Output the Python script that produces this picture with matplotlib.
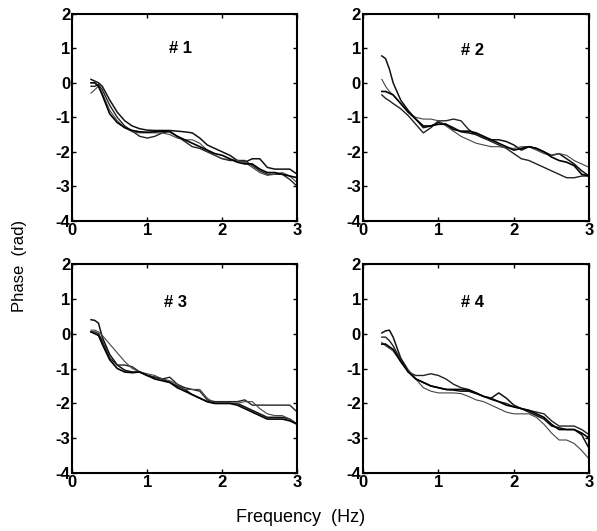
import matplotlib
matplotlib.use("Agg")
import matplotlib.pyplot as plt

plt.rcParams['font.family'] = ['Liberation Sans', 'DejaVu Sans']
plt.rcParams['axes.unicode_minus'] = False

# frequency samples (Hz)
freq = [0.25, 0.3, 0.35, 0.4, 0.5, 0.6, 0.7, 0.8, 0.9, 1.0,
        1.1, 1.2, 1.3, 1.4, 1.5, 1.6, 1.7, 1.8, 1.9, 2.0,
        2.1, 2.2, 2.3, 2.4, 2.5, 2.6, 2.7, 2.8, 2.9, 3.0]

# subject #1, four trials (phase in rad)
s1_a = [0.1, 0.05, 0.0, -0.1, -0.5, -0.85, -1.1, -1.25, -1.33, -1.37,
        -1.38, -1.38, -1.38, -1.4, -1.42, -1.45, -1.6, -1.8, -1.9, -2.0,
        -2.1, -2.25, -2.3, -2.2, -2.2, -2.45, -2.5, -2.5, -2.5, -2.65]
s1_b = [-0.1, -0.1, -0.05, -0.2, -0.65, -1.0, -1.25, -1.4, -1.55, -1.6,
        -1.55, -1.45, -1.4, -1.55, -1.7, -1.85, -1.9, -2.0, -2.1, -2.2,
        -2.25, -2.25, -2.25, -2.4, -2.55, -2.65, -2.65, -2.65, -2.8, -3.0]
s1_c = [-0.3, -0.2, -0.1, -0.3, -0.8, -1.1, -1.3, -1.42, -1.45, -1.45,
        -1.45, -1.45, -1.5, -1.6, -1.65, -1.65, -1.75, -1.95, -2.1, -2.2,
        -2.22, -2.25, -2.3, -2.45, -2.6, -2.68, -2.65, -2.6, -2.7, -2.9]
s1_d = [0.0, 0.0, -0.1, -0.35, -0.9, -1.15, -1.3, -1.38, -1.42, -1.43,
        -1.42, -1.4, -1.42, -1.55, -1.65, -1.75, -1.85, -1.95, -2.05, -2.1,
        -2.2, -2.3, -2.35, -2.35, -2.5, -2.6, -2.6, -2.65, -2.7, -2.75]

# subject #2
s2_a = [0.78, 0.7, 0.4, 0.0, -0.5, -0.8, -1.05, -1.3, -1.25, -1.15,
        -1.2, -1.3, -1.42, -1.45, -1.5, -1.6, -1.65, -1.65, -1.7, -1.8,
        -1.95, -1.85, -1.9, -2.0, -2.1, -2.05, -2.2, -2.35, -2.55, -2.7]
s2_b = [-0.35, -0.45, -0.52, -0.6, -0.75, -0.95, -1.2, -1.45, -1.3, -1.1,
        -1.1, -1.05, -1.1, -1.35, -1.5, -1.6, -1.7, -1.8, -1.9, -2.05,
        -2.2, -2.25, -2.35, -2.45, -2.55, -2.65, -2.75, -2.75, -2.7, -2.7]
s2_c = [0.1, -0.1, -0.25, -0.35, -0.6, -0.85, -1.0, -1.05, -1.05, -1.1,
        -1.25, -1.4, -1.55, -1.65, -1.75, -1.8, -1.85, -1.85, -1.88, -1.9,
        -1.85, -1.85, -1.95, -2.05, -2.1, -2.05, -2.1, -2.25, -2.35, -2.45]
s2_d = [-0.25, -0.25, -0.3, -0.35, -0.6, -0.85, -1.05, -1.25, -1.25, -1.2,
        -1.2, -1.35, -1.4, -1.4, -1.45, -1.55, -1.65, -1.75, -1.85, -1.95,
        -1.9, -1.85, -1.9, -2.0, -2.15, -2.25, -2.3, -2.4, -2.65, -2.7]

# subject #3
s3_a = [0.4, 0.38, 0.3, -0.1, -0.6, -0.9, -1.05, -1.1, -1.1, -1.2,
        -1.25, -1.3, -1.4, -1.5, -1.6, -1.75, -1.85, -1.95, -2.0, -2.0,
        -2.0, -2.0, -2.1, -2.2, -2.3, -2.4, -2.4, -2.4, -2.45, -2.6]
s3_b = [0.05, 0.05, 0.0, -0.2, -0.7, -0.9, -0.9, -0.95, -1.1, -1.2,
        -1.25, -1.3, -1.25, -1.45, -1.55, -1.6, -1.65, -1.9, -1.95, -1.95,
        -1.95, -1.95, -1.9, -2.05, -2.05, -2.05, -2.05, -2.05, -2.05, -2.25]
s3_c = [0.1, 0.1, 0.05, -0.05, -0.3, -0.55, -0.8, -1.0, -1.1, -1.15,
        -1.2, -1.3, -1.35, -1.45, -1.6, -1.6, -1.6, -1.85, -2.0, -2.0,
        -2.0, -2.0, -1.95, -1.95, -2.15, -2.3, -2.35, -2.35, -2.45, -2.6]
s3_d = [0.05, 0.0, -0.05, -0.3, -0.75, -1.0, -1.1, -1.12, -1.1, -1.2,
        -1.3, -1.35, -1.4, -1.55, -1.65, -1.75, -1.85, -1.95, -2.0, -2.0,
        -2.0, -2.05, -2.15, -2.25, -2.35, -2.45, -2.45, -2.45, -2.5, -2.6]

# subject #4
s4_a = [0.02, 0.08, 0.1, -0.1, -0.7, -1.05, -1.3, -1.4, -1.5, -1.55,
        -1.6, -1.62, -1.65, -1.65, -1.72, -1.8, -1.85, -1.7, -1.85, -2.05,
        -2.15, -2.25, -2.35, -2.45, -2.65, -2.7, -2.75, -2.75, -2.9, -3.3]
s4_b = [-0.1, -0.1, -0.2, -0.35, -0.75, -1.1, -1.2, -1.2, -1.15, -1.2,
        -1.3, -1.45, -1.55, -1.6, -1.7, -1.8, -1.85, -1.95, -2.0, -2.1,
        -2.15, -2.2, -2.25, -2.3, -2.5, -2.65, -2.65, -2.65, -2.75, -2.9]
s4_c = [-0.25, -0.35, -0.42, -0.5, -0.8, -1.05, -1.3, -1.55, -1.65, -1.7,
        -1.7, -1.7, -1.72, -1.8, -1.9, -1.95, -2.05, -2.15, -2.25, -2.3,
        -2.3, -2.3, -2.4, -2.6, -2.85, -3.05, -3.05, -3.15, -3.35, -3.6]
s4_d = [-0.3, -0.3, -0.38, -0.45, -0.8, -1.1, -1.3, -1.4, -1.5, -1.55,
        -1.6, -1.6, -1.6, -1.62, -1.7, -1.8, -1.88, -1.95, -2.05, -2.1,
        -2.15, -2.2, -2.3, -2.4, -2.6, -2.75, -2.75, -2.75, -2.85, -3.0]

panels = [
    ("# 1", [s1_a, s1_b, s1_c, s1_d], (1.44, 1.0)),
    ("# 2", [s2_a, s2_b, s2_c, s2_d], (1.45, 0.95)),
    ("# 3", [s3_a, s3_b, s3_c, s3_d], (1.37, 0.9)),
    ("# 4", [s4_a, s4_b, s4_c, s4_d], (1.45, 0.88)),
]

# axes boxes [left, bottom, width, height] in figure fraction
boxes = [
    [0.121, 0.584, 0.377, 0.390],
    [0.608, 0.584, 0.379, 0.390],
    [0.121, 0.109, 0.377, 0.394],
    [0.608, 0.109, 0.379, 0.394],
]

line_colors = ['#111111', '#222222', '#444444', '#000000']
line_widths = [1.1, 1.0, 0.8, 1.2]

fig = plt.figure(figsize=(5.97, 5.31), dpi=100)

for (name, trials, pos), box in zip(panels, boxes):
    ax = fig.add_axes(box)
    for y, c, lw in zip(trials, line_colors, line_widths):
        ax.plot(freq, y, color=c, lw=lw)
    ax.set_xlim(0, 3)
    ax.set_ylim(-4, 2)
    ax.set_xticks([0, 1, 2, 3])
    ax.set_yticks([-4, -3, -2, -1, 0, 1, 2])
    ax.tick_params(direction='in', length=3, width=1, top=True, right=True,
                   labelsize=12, pad=1.5)
    for lab in ax.get_xticklabels() + ax.get_yticklabels():
        lab.set_fontweight('bold')
    for sp in ax.spines.values():
        sp.set_linewidth(1.5)
    ax.text(pos[0], pos[1], name, ha='center', va='center',
            fontsize=12, fontweight='bold')

fig.text(0.032, 0.5, "Phase  (rad)", rotation=90, ha='center', va='center',
         fontsize=12)
fig.text(0.503, 0.025, "Frequency  (Hz)", ha='center', va='center',
         fontsize=13)

fig.savefig("out.png", dpi=100)
